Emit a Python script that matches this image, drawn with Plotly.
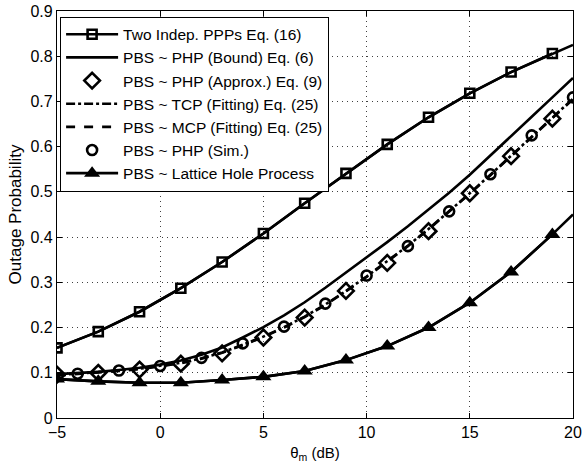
import plotly.graph_objects as go

# SINR threshold grid (dB)
theta_all = list(range(-5, 21))
theta_odd = list(range(-5, 20, 2))
theta_even = list(range(-4, 21, 2))
theta_end = 20

# Two independent PPPs, Eq. (16)
ppp_odd = [0.155, 0.191, 0.235, 0.287, 0.345, 0.408, 0.475, 0.541, 0.605, 0.665, 0.718, 0.765, 0.806]
ppp_end = 0.825

# PBS ~ PHP bound, Eq. (6)
bound_all = [0.097, 0.099, 0.102, 0.106, 0.111, 0.118, 0.127, 0.140, 0.156, 0.178, 0.201, 0.227, 0.256,
             0.288, 0.321, 0.355, 0.389, 0.424, 0.460, 0.498, 0.538, 0.580, 0.623, 0.666, 0.709, 0.752]

# PBS ~ PHP approximation, Eq. (9)
approx_odd = [0.096, 0.100, 0.107, 0.120, 0.143, 0.178, 0.222, 0.281, 0.343, 0.413, 0.497, 0.579, 0.662]

# TCP / MCP fittings, Eq. (25)
tcp_all = [0.095, 0.098, 0.101, 0.105, 0.109, 0.115, 0.122, 0.132, 0.145, 0.162, 0.180, 0.201, 0.224,
           0.251, 0.281, 0.313, 0.346, 0.381, 0.418, 0.457, 0.497, 0.538, 0.580, 0.622, 0.664, 0.706]
mcp_all = [0.094, 0.097, 0.100, 0.104, 0.108, 0.114, 0.121, 0.131, 0.144, 0.161, 0.179, 0.200, 0.223,
           0.250, 0.280, 0.312, 0.345, 0.380, 0.417, 0.456, 0.496, 0.537, 0.579, 0.621, 0.663, 0.705]

# PBS ~ PHP simulation
sim_even = [0.098, 0.105, 0.115, 0.133, 0.165, 0.202, 0.253, 0.315, 0.380, 0.457, 0.539, 0.625, 0.709]

# PBS ~ lattice hole process
lattice_odd = [0.086, 0.081, 0.078, 0.078, 0.084, 0.091, 0.104, 0.128, 0.159, 0.200, 0.255, 0.323, 0.406]
lattice_end = 0.450

x_ticks = [-5, 0, 5, 10, 15, 20]
y_ticks = [0, 0.1, 0.2, 0.3, 0.4, 0.5, 0.6, 0.7, 0.8, 0.9]
y_ticklabels = ["0", "0.1", "0.2", "0.3", "0.4", "0.5", "0.6", "0.7", "0.8", "0.9"]

BLACK = "black"
LW = 2.6
FONT = "Liberation Sans, Arial, sans-serif"

fig = go.Figure()

# continuous lines under the marked curves (they run on to 20 dB)
fig.add_trace(go.Scatter(x=theta_odd + [theta_end], y=ppp_odd + [ppp_end], mode="lines",
                         line=dict(color=BLACK, width=LW),
                         showlegend=False, hoverinfo="skip"))
fig.add_trace(go.Scatter(x=theta_odd + [theta_end], y=lattice_odd + [lattice_end], mode="lines",
                         line=dict(color=BLACK, width=LW),
                         showlegend=False, hoverinfo="skip"))

fig.add_trace(go.Scatter(
    x=theta_odd, y=ppp_odd, mode="lines+markers", name="Two Indep. PPPs Eq. (16)",
    legendrank=1,
    line=dict(color=BLACK, width=LW),
    marker=dict(symbol="square-open", size=9, color=BLACK, line=dict(width=2.6, color=BLACK))))

fig.add_trace(go.Scatter(
    x=theta_all, y=bound_all, mode="lines", name="PBS ~ PHP (Bound) Eq. (6)",
    legendrank=2,
    line=dict(color=BLACK, width=LW)))

fig.add_trace(go.Scatter(
    x=theta_all, y=tcp_all, mode="lines", name="PBS ~ TCP (Fitting) Eq. (25)",
    legendrank=4,
    line=dict(color=BLACK, width=LW, dash="dashdot")))

fig.add_trace(go.Scatter(
    x=theta_all, y=mcp_all, mode="lines", name="PBS ~ MCP (Fitting) Eq. (25)",
    legendrank=5,
    line=dict(color=BLACK, width=LW, dash="dash")))

fig.add_trace(go.Scatter(
    x=theta_odd, y=approx_odd, mode="markers", name="PBS ~ PHP (Approx.) Eq. (9)",
    legendrank=3,
    marker=dict(symbol="diamond-open", size=12, color=BLACK, line=dict(width=2.6, color=BLACK))))

fig.add_trace(go.Scatter(
    x=theta_even, y=sim_even, mode="markers", name="PBS ~ PHP (Sim.)",
    legendrank=6,
    marker=dict(symbol="circle-open", size=10, color=BLACK, line=dict(width=2.6, color=BLACK))))

fig.add_trace(go.Scatter(
    x=theta_odd, y=lattice_odd, mode="lines+markers", name="PBS ~ Lattice Hole Process",
    legendrank=7,
    line=dict(color=BLACK, width=LW),
    marker=dict(symbol="triangle-up", size=14, color=BLACK)))

axis_common = dict(
    showline=True, linecolor=BLACK, linewidth=1.3, mirror="ticks",
    ticks="inside", ticklen=5, tickcolor=BLACK,
    showgrid=True, gridcolor="rgba(0,0,0,0.75)", gridwidth=1, griddash="1px,4px",
    zeroline=False, automargin=False,
    tickfont=dict(family=FONT, size=16, color=BLACK),
)

fig.update_xaxes(range=[-5, 20], tickvals=x_ticks, **axis_common,
                 title=dict(text="θ<sub>m</sub> (dB)", font=dict(family=FONT, size=15, color=BLACK),
                            standoff=9))
fig.update_yaxes(range=[0, 0.9], tickvals=y_ticks, ticktext=y_ticklabels, **axis_common,
                 title=dict(text="Outage Probability", font=dict(family=FONT, size=17, color=BLACK),
                            standoff=4))

fig.update_layout(
    width=583, height=463,
    margin=dict(l=57, r=10, t=11, b=45, autoexpand=False),
    paper_bgcolor="white", plot_bgcolor="white",
    showlegend=True,
    legend=dict(
        x=0.006, y=0.986, xanchor="left", yanchor="top",
        bgcolor="white", bordercolor=BLACK, borderwidth=1,
        font=dict(family=FONT, size=15.5, color=BLACK),
        traceorder="normal",
        itemwidth=52,
    ),
    font=dict(family=FONT, color=BLACK),
)

fig.write_html("out.html")
